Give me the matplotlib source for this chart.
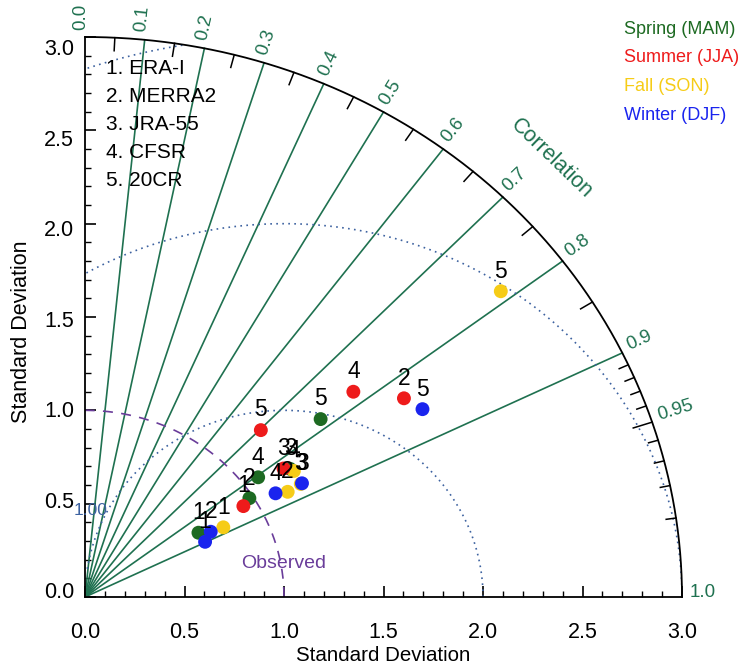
import numpy as np
import matplotlib
matplotlib.use("Agg")
import matplotlib.pyplot as plt

plt.rcParams["font.family"] = ["Liberation Sans", "DejaVu Sans"]

# ---- data -------------------------------------------------------------
datasets = ["ERA-I", "MERRA2", "JRA-55", "CFSR", "20CR"]
point_ids = ["1", "2", "3", "4", "5"]
season_names = ["Spring (MAM)", "Summer (JJA)", "Fall (SON)", "Winter (DJF)"]

std_spring = [0.666, 0.981, 1.238, 1.081, 1.520]
corr_spring = [0.856, 0.842, 0.832, 0.805, 0.779]

std_summer = [0.933, 1.924, 1.212, 1.740, 1.257]
corr_summer = [0.853, 0.833, 0.823, 0.775, 0.703]

std_fall = [0.789, 1.164, 1.242, 1.248, 2.655]
corr_fall = [0.881, 0.875, 0.873, 0.841, 0.787]

std_winter = [0.672, 0.722, 1.249, 1.107, 1.972]
corr_winter = [0.898, 0.875, 0.873, 0.865, 0.860]

corr_lines = [0.1, 0.2, 0.3, 0.4, 0.5, 0.6, 0.7, 0.8, 0.9]
corr_labels = [0.0, 0.1, 0.2, 0.3, 0.4, 0.5, 0.6, 0.7, 0.8, 0.9, 0.95, 1.0]
corr_minor = [0.05, 0.15, 0.25, 0.35, 0.45, 0.55, 0.65, 0.75, 0.85,
              0.91, 0.92, 0.93, 0.94, 0.96, 0.97, 0.98, 0.99]
rms_levels = [1.0, 2.0, 3.0]
ref_std = 1.0
std_max = 3.0

# ---- styling ----------------------------------------------------------
season_colors = ["#1d6a22", "#ee1b1b", "#f6cc17", "#1a24ee"]
season_z = [4, 6, 5, 7]
corr_color = "#1f7150"
rms_color = "#3d62a0"
obs_color = "#6a3d9a"

W, H = 748, 666
fig = plt.figure(figsize=(W / 100, H / 100), dpi=100)
x0, x1, y0, y1 = 85, 682, 597, 37  # pixel frame of the std axes
ax = fig.add_axes([x0 / W, 1 - y0 / H, (x1 - x0) / W, (y0 - y1) / H])
ax.set_xlim(0, std_max)
ax.set_ylim(0, std_max)
sx = (x1 - x0) / std_max
sy = (y0 - y1) / std_max

for s in ["top", "right"]:
    ax.spines[s].set_visible(False)
for s in ["left", "bottom"]:
    ax.spines[s].set_linewidth(1.3)

ticks = np.arange(0, 3.01, 0.5)
ax.set_xticks(ticks)
ax.set_yticks(ticks)
ax.set_xticks(np.arange(0, 3.01, 0.1), minor=True)
ax.set_yticks(np.arange(0, 3.01, 0.1), minor=True)
ax.set_xticklabels([f"{t:.1f}" for t in ticks])
ax.tick_params(axis="y", labelleft=False)
ax.tick_params(which="major", direction="in", length=8, width=1.2, labelsize=15.5)
ax.tick_params(which="minor", direction="in", length=4.5, width=1.0)
ax.tick_params(axis="x", which="major", pad=18)

# y tick labels sit on a slightly compressed scale next to the ticks
y_shift, y_scale = 0.0375, 0.9696
sec = ax.secondary_yaxis(
    "left",
    functions=(lambda y: (y - y_shift) / y_scale, lambda v: y_shift + y_scale * v),
)
sec.set_yticks(ticks)
sec.set_yticklabels([f"{t:.1f}" for t in ticks])
sec.tick_params(length=0, pad=8, labelsize=15.5)
sec.spines["left"].set_visible(False)

ax.set_xlabel("Standard Deviation", fontsize=14.8, va="center")
ax.xaxis.set_label_coords(0.5, -0.104)
fig.text(22 / W, 1 - 332 / H, "Standard Deviation", fontsize=15.5,
         rotation=90, ha="center", va="center")

# outer arc
th = np.linspace(0, np.pi / 2, 400)
ax.plot(std_max * np.cos(th), std_max * np.sin(th), color="black", lw=1.3,
        clip_on=False, zorder=3)

# correlation rays
for c in corr_lines:
    t = np.arccos(c)
    ax.plot([0, std_max * np.cos(t)], [0, std_max * np.sin(t)],
            color=corr_color, lw=1.2, zorder=2)

# correlation ticks on the arc
for c in corr_minor:
    t = np.arccos(c)
    r_in = std_max - (0.07 if c <= 0.85 else 0.05)
    ax.plot([r_in * np.cos(t), std_max * np.cos(t)],
            [r_in * np.sin(t), std_max * np.sin(t)],
            color="black", lw=1.1, clip_on=False, zorder=3)
t95 = np.arccos(0.95)
ax.plot([2.9 * np.cos(t95), std_max * np.cos(t95)],
        [2.9 * np.sin(t95), std_max * np.sin(t95)], color="black", lw=1.1,
        clip_on=False, zorder=3)

# correlation labels
for c in corr_labels:
    t = np.arccos(c)
    rot = np.degrees(np.arctan2(np.sin(t) * sy, np.cos(t) * sx))
    r = std_max + 0.04
    lab = "0.95" if c == 0.95 else f"{c:.1f}"
    ax.text(r * np.cos(t), r * np.sin(t), lab, color=corr_color, fontsize=13.5,
            rotation=rot, rotation_mode="anchor", ha="left", va="baseline",
            clip_on=False)

ax.text(2.342, 2.351, "Correlation", color=corr_color, fontsize=15.5,
        rotation=-44, ha="center", va="center", clip_on=False)

# centred RMS difference circles around the reference point
for lev in rms_levels:
    phi = np.linspace(0, np.pi, 800)
    xx = ref_std + lev * np.cos(phi)
    yy = lev * np.sin(phi)
    keep = (xx >= 0) & (np.hypot(xx, yy) <= std_max + 1e-6)
    if lev == 1.0:
        keep &= phi <= np.radians(172)
    ax.plot(np.where(keep, xx, np.nan), np.where(keep, yy, np.nan),
            color=rms_color, lw=1.2, ls=(0, (1, 2.6)), zorder=2)
ax.text(0.03, 0.466, "1.00", color=rms_color, fontsize=12.5,
        ha="center", va="center", clip_on=False)

# reference standard deviation arc
ax.plot(ref_std * np.cos(th), ref_std * np.sin(th), color=obs_color, lw=1.2,
        ls=(0, (6, 5)), zorder=2)
ax.text(1.0, 0.182, "Observed", color=obs_color, fontsize=14,
        ha="center", va="center")

# data points
all_std = [std_spring, std_summer, std_fall, std_winter]
all_corr = [corr_spring, corr_summer, corr_fall, corr_winter]
for sd, cc, col, z in zip(all_std, all_corr, season_colors, season_z):
    sd = np.asarray(sd)
    t = np.arccos(np.asarray(cc))
    px, py = sd * np.cos(t), sd * np.sin(t)
    ax.scatter(px, py, s=100, color=col, edgecolors="none", zorder=z)
    for xi, yi, lab in zip(px, py, point_ids):
        ax.annotate(lab, (xi, yi), xytext=(0, 14.5), textcoords="offset points",
                    ha="center", va="center", fontsize=16.5, color="black",
                    zorder=10)

# dataset key
for i, name in enumerate(datasets):
    fig.text(106 / W, 1 - (68 + 28 * i) / H, f"{i + 1}. {name}",
             fontsize=15, ha="left", va="center")

# season key
for i, (name, col) in enumerate(zip(season_names, season_colors)):
    fig.text(624 / W, 1 - (29 + 28.7 * i) / H, name, color=col,
             fontsize=13, ha="left", va="center")

fig.savefig("out.png", dpi=100)
